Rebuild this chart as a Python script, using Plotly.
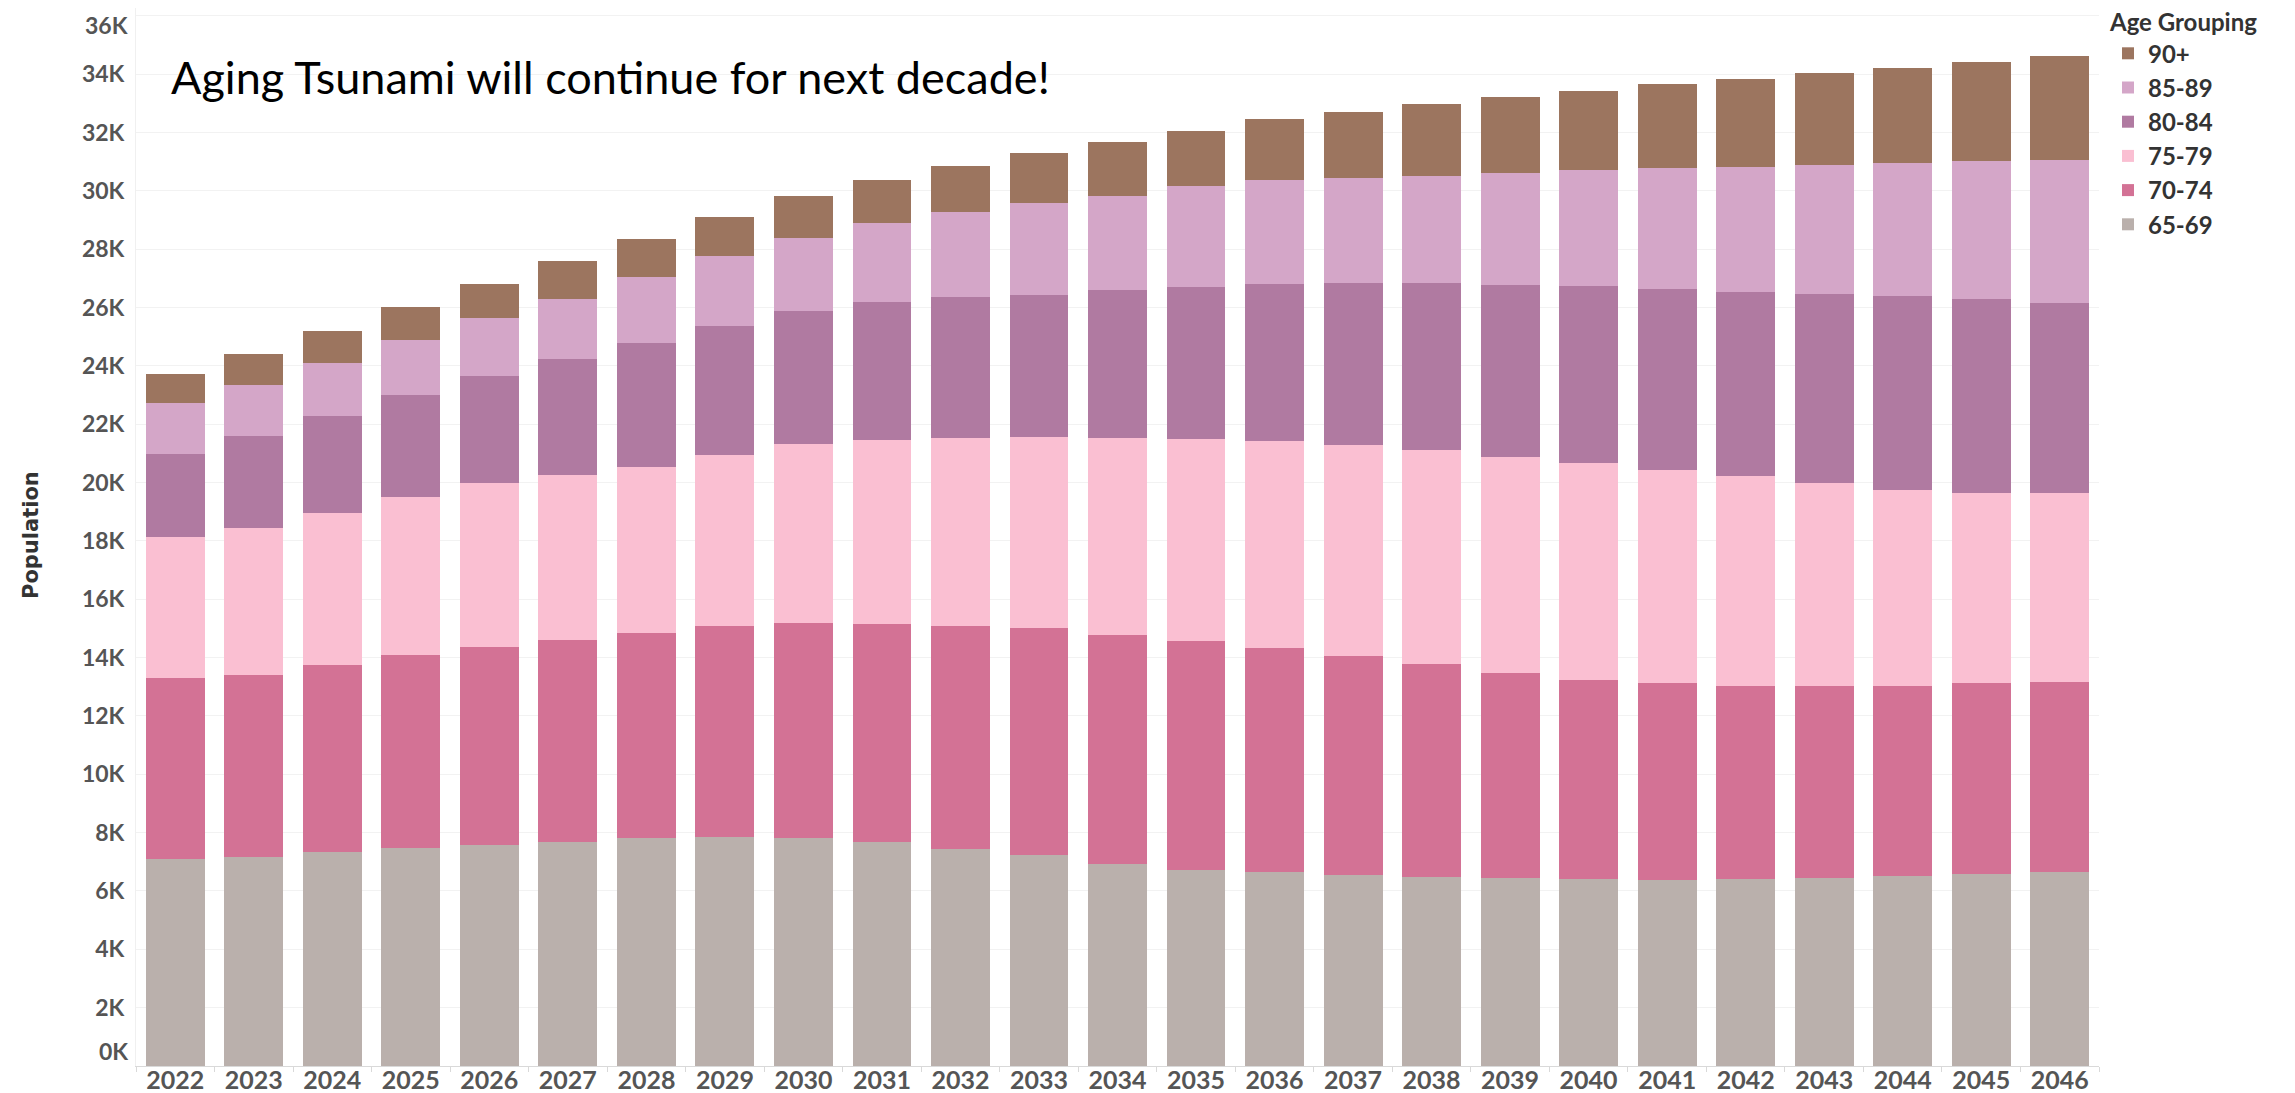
import plotly.graph_objects as go

years = [str(y) for y in range(2022, 2047)]

age_groups = ["65-69", "70-74", "75-79", "80-84", "85-89", "90+"]
colors = ["#BAB0AC", "#D37295", "#FABFD2", "#B07AA1", "#D4A6C8", "#9C755F"]

pop_65_69 = [7110, 7170, 7330, 7480, 7580, 7670, 7820, 7860, 7820, 7670, 7450, 7220, 6940,
             6720, 6650, 6540, 6480, 6450, 6410, 6370, 6410, 6440, 6520, 6570, 6650]
pop_70_74 = [6180, 6230, 6420, 6620, 6770, 6930, 7040, 7210, 7380, 7490, 7650, 7790, 7850,
             7860, 7670, 7520, 7300, 7020, 6820, 6750, 6630, 6600, 6520, 6550, 6500]
pop_75_79 = [4830, 5060, 5210, 5400, 5650, 5670, 5690, 5890, 6110, 6300, 6420, 6540, 6730,
             6900, 7090, 7230, 7330, 7420, 7430, 7300, 7180, 6950, 6710, 6520, 6490]
pop_80_84 = [2860, 3150, 3310, 3510, 3670, 3960, 4220, 4410, 4570, 4740, 4830, 4890, 5070,
             5240, 5400, 5540, 5720, 5890, 6080, 6210, 6330, 6490, 6640, 6640, 6520]
pop_85_89 = [1740, 1740, 1820, 1880, 1960, 2080, 2270, 2390, 2510, 2690, 2920, 3130, 3250,
             3440, 3570, 3610, 3680, 3830, 3980, 4140, 4280, 4420, 4550, 4730, 4890]
pop_90_plus = [990, 1060, 1120, 1130, 1170, 1280, 1320, 1360, 1440, 1470, 1600, 1720, 1840,
               1910, 2070, 2270, 2480, 2600, 2710, 2880, 3010, 3130, 3270, 3420, 3570]

series = [pop_65_69, pop_70_74, pop_75_79, pop_80_84, pop_85_89, pop_90_plus]

y_tick_vals = list(range(0, 36001, 2000))
y_tick_text = [f"{v // 1000}K" for v in y_tick_vals]

title_text = "Aging Tsunami will continue for next decade!"

fig = go.Figure()
for name, vals, col in zip(age_groups, series, colors):
    fig.add_trace(go.Bar(
        x=years, y=vals, name=name,
        marker=dict(color=col, line=dict(width=0)),
    ))

W, H = 2295, 1093
L, R, T, B = 128, 204, 0, 35
pw = W - L - R
ph = H - T - B

tick_font = dict(size=23, color="#555555", family="Lato", weight="bold")

# end labels (first / last) are nudged inside the plot like the original
inner_text = [t if 0 < i < len(y_tick_text) - 1 else "" for i, t in enumerate(y_tick_text)]
edge_labels = [
    dict(text=y_tick_text[0], xref="paper", yref="y", x=0, y=y_tick_vals[0],
         xanchor="right", yanchor="middle", xshift=-6, yshift=15,
         showarrow=False, font=tick_font),
    dict(text=y_tick_text[-1], xref="paper", yref="y", x=0, y=y_tick_vals[-1],
         xanchor="right", yanchor="middle", xshift=-6, yshift=-9,
         showarrow=False, font=tick_font),
]

fig.update_layout(
    width=W, height=H,
    margin=dict(l=L, r=R, t=T, b=B, pad=0, autoexpand=False),
    barmode="stack",
    bargap=0.25,
    plot_bgcolor="white",
    paper_bgcolor="white",
    font=dict(family="Lato", color="#555555"),
    legend=dict(
        title=dict(text="Age Grouping", font=dict(size=24, color="#333333", family="Lato", weight="bold")),
        traceorder="reversed",
        font=dict(size=24, color="#333333", family="Lato", weight="bold"),
        x=(2100 - L) / pw, xanchor="left",
        y=1.0 + 8 / ph, yanchor="top",
        bgcolor="rgba(0,0,0,0)",
        tracegroupgap=0,
    ),
    xaxis=dict(
        type="category",
        showgrid=False,
        showline=True, linecolor="#d9d9d9", linewidth=1,
        ticks="outside", tickson="boundaries", ticklen=5, tickcolor="#d9d9d9",
        tickfont=dict(size=25, color="#555555", family="Lato", weight="bold"),
        ticklabelstandoff=-8,
    ),
    yaxis=dict(
        range=[0, 36270],
        tickvals=y_tick_vals, ticktext=inner_text,
        tickfont=tick_font,
        showgrid=True, gridcolor="#f2f2f2", gridwidth=1,
        zeroline=False,
        showline=True, linecolor="#f0f0f0", linewidth=1,
        ticks="", ticklabelstandoff=6,
    ),
    annotations=edge_labels + [
        dict(
            text=title_text, xref="paper", yref="paper",
            x=(161 - L) / pw, y=(ph - 69) / ph, xanchor="left", yanchor="middle",
            showarrow=False, font=dict(size=45, color="#000000", family="Lato"),
        ),
        dict(
            text="Population", xref="paper", yref="paper",
            x=(23 - L) / pw, y=(ph - 527) / ph, xanchor="center", yanchor="middle",
            textangle=-90, showarrow=False,
            font=dict(size=21, color="#333333", family="DejaVu Sans", weight="bold"),
        ),
    ],
)

fig.write_html("out.html")
